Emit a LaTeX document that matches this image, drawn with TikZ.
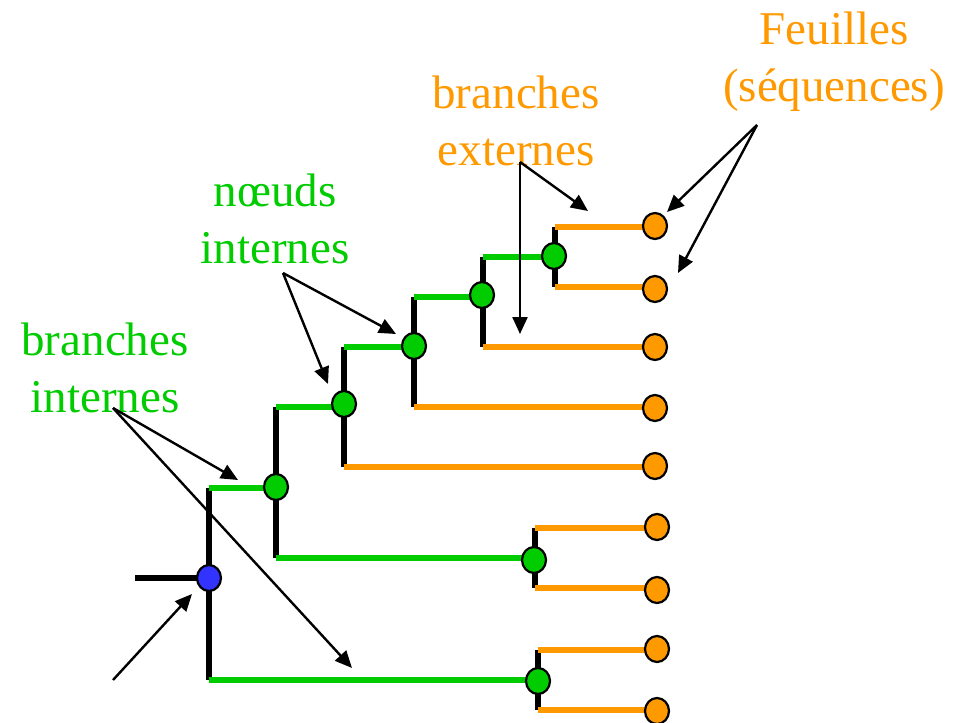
\documentclass[tikz,border=0pt]{standalone}
\usepackage{fontspec}
\setmainfont{Liberation Serif}
\usetikzlibrary{arrows.meta,shapes.geometric,backgrounds}
\definecolor{brgreen}{RGB}{0,204,0}
\definecolor{brorange}{RGB}{255,153,0}
\definecolor{rootblue}{RGB}{51,51,255}
\tikzset{
  dot/.style={ellipse,draw=black,line width=2.2pt,minimum width=24pt,minimum height=26pt,inner sep=0pt},
  inner/.style={dot,fill=brgreen},
  leaf/.style={dot,fill=brorange},
  rootnode/.style={dot,fill=rootblue},
  stem/.style={line width=6.5pt,black},
  ibranch/.style={line width=5.5pt,brgreen},
  ebranch/.style={line width=5.5pt,brorange},
  pointer/.style={line width=2.4pt,black,-{Triangle[length=17pt,width=15pt]}},
  % anchor=base puts the last line of a two-line label on the given baseline
  lbl/.style={font=\fontsize{47}{57}\selectfont,align=center,inner sep=0pt,anchor=base}
}
\begin{document}
\begin{tikzpicture}[x=1pt,y=-1pt]
\useasboundingbox (0,0) rectangle (959,723);

% tree nodes
\node[rootnode] (r) at (209,578) {};
\node[inner] (a) at (276,487) {};
\node[inner] (b) at (344,404) {};
\node[inner] (c) at (414,346) {};
\node[inner] (d) at (482,295) {};
\node[inner] (e) at (554,256) {};
\node[inner] (f) at (534,560) {};
\node[inner] (g) at (538,681) {};
% leaves
\node[leaf] (l1) at (655,226) {};
\node[leaf] (l2) at (655,289) {};
\node[leaf] (l3) at (655,347) {};
\node[leaf] (l4) at (655,408) {};
\node[leaf] (l5) at (655,466) {};
\node[leaf] (l6) at (657,527) {};
\node[leaf] (l7) at (657,590) {};
\node[leaf] (l8) at (657,649) {};
\node[leaf] (l9) at (657,711) {};

% corners of the branches
\coordinate (s)  at (135,578);
\coordinate (r1) at (209,488); \coordinate (r2) at (209,680);
\coordinate (a1) at (276,407); \coordinate (a2) at (276,558);
\coordinate (b1) at (344,347); \coordinate (b2) at (344,467);
\coordinate (c1) at (414,297); \coordinate (c2) at (414,407);
\coordinate (d1) at (483,257); \coordinate (d2) at (483,347);
\coordinate (e1) at (555,227); \coordinate (e2) at (555,287);
\coordinate (f1) at (535,528); \coordinate (f2) at (535,588);
\coordinate (g1) at (538,650); \coordinate (g2) at (538,710);

\begin{scope}[on background layer]
  % vertical stems
  \draw[stem] (s) -- (r.center);
  \draw[stem] (r1) -- (r2);
  \draw[stem] (a1) -- (a2);
  \draw[stem] (b1) -- (b2);
  \draw[stem] (c1) -- (c2);
  \draw[stem] (d1) -- (d2);
  \draw[stem] (e1) -- (e2);
  \draw[stem] (f1) -- (f2);
  \draw[stem] (g1) -- (g2);
  % internal branches
  \draw[ibranch] (r1) -- (r1 -| a.center);
  \draw[ibranch] (r2) -- (r2 -| g.center);
  \draw[ibranch] (a1) -- (a1 -| b.center);
  \draw[ibranch] (a2) -- (a2 -| f.center);
  \draw[ibranch] (b1) -- (b1 -| c.center);
  \draw[ibranch] (c1) -- (c1 -| d.center);
  \draw[ibranch] (d1) -- (d1 -| e.center);
  % external branches
  \draw[ebranch] (e1) -- (e1 -| l1.center);
  \draw[ebranch] (e2) -- (e2 -| l2.center);
  \draw[ebranch] (d2) -- (d2 -| l3.center);
  \draw[ebranch] (c2) -- (c2 -| l4.center);
  \draw[ebranch] (b2) -- (b2 -| l5.center);
  \draw[ebranch] (f1) -- (f1 -| l6.center);
  \draw[ebranch] (f2) -- (f2 -| l7.center);
  \draw[ebranch] (g1) -- (g1 -| l8.center);
  \draw[ebranch] (g2) -- (g2 -| l9.center);
\end{scope}

% labels
\node[lbl,text=brorange] (tfeuilles) at (834,101) {Feuilles\\(séquences)};
\node[lbl,text=brorange] (texternes) at (516,165) {branches\\externes};
\node[lbl,text=brgreen] (tnoeuds) at (275,263) {nœuds\\internes};
\node[lbl,text=brgreen] (tinternes) at (105,412) {branches\\internes};

% pointer arrows
\coordinate (pf)  at (757,125);
\coordinate (pf1) at (667,212);
\coordinate (pf2) at (678,273);
\coordinate (pe)  at (520,162);
\coordinate (pe1) at (588,211);
\coordinate (pe2) at (520,334);
\coordinate (pn)  at (283,273);
\coordinate (pn1) at (396,334);
\coordinate (pn2) at (328,384);
\coordinate (pi)  at (113,408);
\coordinate (pi1) at (238,480);
\coordinate (pi2) at (352,668);
\coordinate (pr)  at (113,680);
\coordinate (pr1) at (192,594);

\draw[pointer] (pf) -- (pf1);
\draw[pointer] (pf) -- (pf2);
\draw[pointer] (pe) -- (pe1);
\draw[pointer] (pe) -- (pe2);
\draw[pointer] (pn) -- (pn1);
\draw[pointer] (pn) -- (pn2);
\draw[pointer] (pi) -- (pi1);
\draw[pointer] (pi) -- (pi2);
\draw[pointer] (pr) -- (pr1);
\end{tikzpicture}
\end{document}
